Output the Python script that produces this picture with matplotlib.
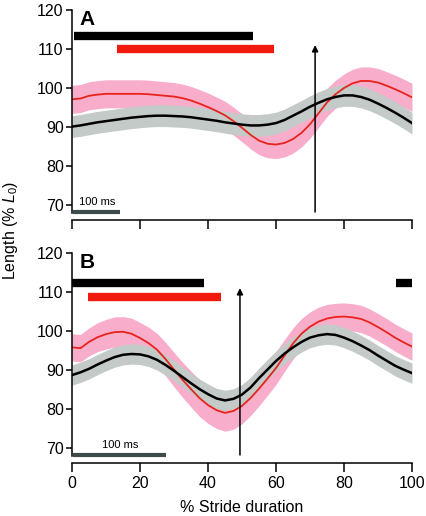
import numpy as np
import matplotlib.pyplot as plt

plt.rcParams['font.family'] = ['Liberation Sans', 'DejaVu Sans']
plt.rcParams['mathtext.fontset'] = 'custom'
plt.rcParams['mathtext.rm'] = 'Liberation Sans'
plt.rcParams['mathtext.it'] = 'Liberation Sans:italic'

# % stride duration, read every 2.5 %
stride = [0, 2.5, 5, 7.5, 10, 12.5, 15, 17.5, 20, 22.5, 25, 27.5, 30, 32.5, 35, 37.5, 40, 42.5,
          45, 47.5, 50, 52.5, 55, 57.5, 60, 62.5, 65, 67.5, 70, 72.5, 75, 77.5, 80, 82.5, 85,
          87.5, 90, 92.5, 95, 97.5, 100]

# panel A
red_a = [97.1, 97.3, 98.0, 98.3, 98.5, 98.5, 98.5, 98.5, 98.5, 98.4, 98.2, 98.0, 97.8, 97.4,
         96.8, 96.0, 95.1, 94.1, 93.0, 91.5, 89.8, 88.0, 86.5, 85.7, 85.5, 85.9, 86.9, 88.5,
         90.7, 93.5, 96.3, 98.4, 100.0, 101.2, 101.8, 101.8, 101.4, 100.6, 99.7, 98.7, 97.6]
red_a_sd = 3.6
black_a = [90.1, 90.4, 90.8, 91.2, 91.5, 91.8, 92.1, 92.4, 92.6, 92.8, 92.9, 92.9, 92.8, 92.7,
           92.5, 92.2, 91.9, 91.6, 91.2, 90.9, 90.6, 90.4, 90.4, 90.6, 91.0, 91.8, 92.9, 94.0,
           95.2, 96.2, 97.1, 97.7, 98.1, 98.1, 97.7, 97.0, 96.0, 94.9, 93.7, 92.4, 91.0]
black_a_sd = 2.8

# panel B
red_b = [95.8, 95.6, 97.2, 98.4, 99.2, 99.7, 99.8, 99.3, 98.2, 96.9, 95.2, 92.8, 90.1, 87.5,
         85.1, 82.8, 81.0, 79.7, 79.0, 79.5, 80.8, 82.8, 85.2, 87.8, 90.5, 93.7, 96.8, 99.3,
         101.1, 102.4, 103.2, 103.6, 103.7, 103.5, 103.1, 102.2, 101.0, 99.7, 98.3, 97.1, 96.0]
red_b_sd = [3.5, 3.5, 3.6, 3.7, 3.8, 3.9, 3.9, 4.0, 4.0, 4.1, 4.2, 4.3, 4.4, 4.5, 4.6, 4.7,
            4.7, 4.7, 4.7, 4.7, 4.6, 4.5, 4.4, 4.3, 4.2, 4.1, 4.0, 3.9, 3.8, 3.7, 3.6, 3.5,
            3.5, 3.5, 3.5, 3.5, 3.5, 3.5, 3.5, 3.5, 3.5]
black_b = [88.7, 89.4, 90.3, 91.4, 92.4, 93.3, 93.9, 94.1, 94.0, 93.5, 92.6, 91.3, 89.8, 88.2,
           86.6, 85.1, 83.8, 82.7, 82.2, 82.6, 83.7, 85.5, 87.9, 90.1, 92.3, 94.2, 95.8, 97.2,
           98.3, 98.9, 99.2, 99.0, 98.3, 97.4, 96.3, 95.1, 93.7, 92.4, 91.1, 90.1, 89.2]
black_b_sd = 2.6

# activity bars: (start, end, level)
bars_black_a = [(0.5, 53.1, 113.4)]
bars_red_a = [(13.1, 59.4, 110.0)]
bars_black_b = [(0, 38.8, 112.2), (95.3, 100, 112.2)]
bars_red_b = [(4.6, 43.7, 108.8)]

arrow_a = 71.5
arrow_b = 49.4
scale_a = 14.1   # 100 ms in % stride
scale_b = 27.5

RED = '#e8231c'
PINK = '#f8aecb'
GREY = '#c3cac8'
SCALE = '#3e4b4b'


def draw_panel(ax, red, red_sd, black, black_sd, bars_k, bars_r, arrow_x, scale_len, letter):
    x = np.array(stride)
    red = np.array(red)
    black = np.array(black)
    red_sd = np.array(red_sd)
    ax.fill_between(x, red - red_sd, red + red_sd, color=PINK, lw=0)
    ax.fill_between(x, black - black_sd, black + black_sd, color=GREY, lw=0)
    ax.plot(x, red, color=RED, lw=1.3)
    ax.plot(x, black, color='black', lw=1.8)

    for x0, x1, yv in bars_k:
        ax.plot([x0, x1], [yv, yv], color='black', lw=6, solid_capstyle='butt')
    for x0, x1, yv in bars_r:
        ax.plot([x0, x1], [yv, yv], color='#f21a0c', lw=6, solid_capstyle='butt')

    ax.annotate('', xy=(arrow_x, 111.0), xytext=(arrow_x, 68.2),
                arrowprops=dict(arrowstyle='-|>', color='black', lw=1.1,
                                mutation_scale=9, shrinkA=0, shrinkB=0))

    ax.plot([0.3, scale_len], [68.2, 68.2], color=SCALE, lw=3, solid_capstyle='butt')
    ax.text(scale_len / 2 + 0.5, 69.4, '100 ms', fontsize=8, ha='center', va='bottom')

    ax.text(2.3, 116.2, letter, fontsize=15, fontweight='bold', va='baseline')

    ax.set_xlim(0, 100)
    ax.set_ylim(66.15, 120)
    for s in ['top', 'right']:
        ax.spines[s].set_visible(False)
    ax.spines['left'].set_bounds(68, 120)
    ax.spines['bottom'].set_bounds(0, 100)
    ax.spines['left'].set_linewidth(1.1)
    ax.spines['bottom'].set_linewidth(1.1)
    ax.set_yticks([70, 80, 90, 100, 110, 120])
    ax.set_xticks([0, 20, 40, 60, 80, 100])
    ax.tick_params(axis='y', direction='out', length=4, width=1.1, labelsize=11.5, pad=2)
    ax.tick_params(axis='x', direction='out', length=6.5, width=1.1, labelsize=11.5, pad=3)


fig = plt.figure(figsize=(4.26, 5.16), dpi=100)
axA = fig.add_axes([72 / 426, 1 - 220 / 516, 340 / 426, 210 / 516])
axB = fig.add_axes([72 / 426, 1 - 463 / 516, 340 / 426, 210 / 516])

draw_panel(axA, red_a, red_a_sd, black_a, black_a_sd, bars_black_a, bars_red_a, arrow_a, scale_a, 'A')
draw_panel(axB, red_b, red_b_sd, black_b, black_b_sd, bars_black_b, bars_red_b, arrow_b, scale_b, 'B')

axA.set_xticklabels([])
axB.set_xlabel('% Stride duration', fontsize=11.5, labelpad=6)

fig.text(11 / 426, 1 - 230 / 516, 'Length (% $\\mathit{L}_0$)', rotation=90,
         fontsize=11.5, ha='center', va='center')

fig.savefig('out.png', dpi=100)
